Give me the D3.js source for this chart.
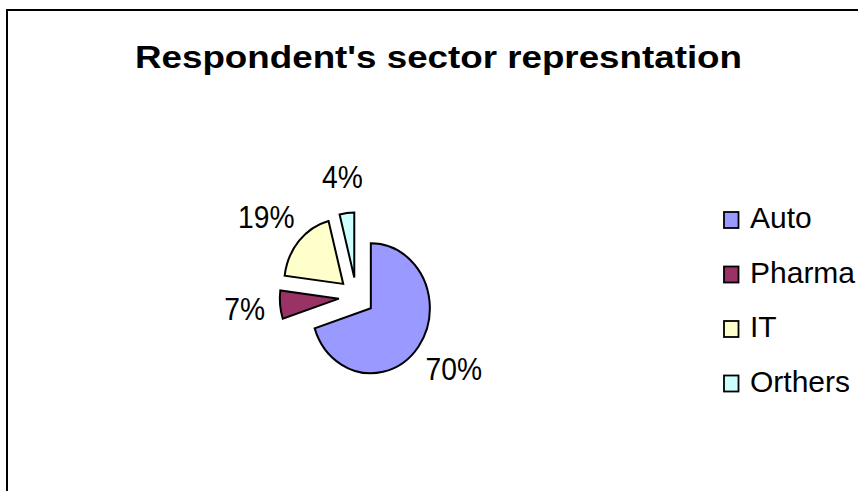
<!DOCTYPE html>
<html>
<head>
<meta charset="utf-8">
<script src="https://cdn.jsdelivr.net/npm/d3@7"></script>
<style>
  html, body { margin: 0; padding: 0; background: #ffffff; }
  svg { display: block; }
  text { font-family: "Liberation Sans", Arial, sans-serif; fill: #000; }
</style>
</head>
<body>
<svg id="chart" width="858" height="491"></svg>
<script>
// ---- data ----
const categories = ["Auto", "Pharma", "IT", "Orthers"];
const values = [70, 7, 19, 4];
const labels = ["70%", "7%", "19%", "4%"];
const colors = ["#9999FF", "#993366", "#FFFFCC", "#CCFFFF"];
const title = "Respondent's sector represntation";

// ---- layout ----
const svg = d3.select("#chart");

// outer frame (extends past right and bottom edges)
svg.append("rect")
  .attr("x", 7).attr("y", 10)
  .attr("width", 1000).attr("height", 1000)
  .attr("fill", "#fff").attr("stroke", "#000").attr("stroke-width", 2);

// title
svg.append("text")
  .attr("x", 135).attr("y", 68)
  .attr("font-size", 32).attr("font-weight", "bold")
  .attr("textLength", 607).attr("lengthAdjust", "spacingAndGlyphs")
  .text(title);

// pie
const cx = 356.5, cy = 296.8;
const R = 65, sx = 0.908, explode = 19.5;
const pie = d3.pie().sort(null).startAngle(0).endAngle(2 * Math.PI);
const arcs = pie(values);
const arc = d3.arc().innerRadius(0).outerRadius(R);
const color = d3.scaleOrdinal().domain(categories).range(colors);

const pg = svg.append("g").attr("transform", `translate(${cx},${cy}) scale(${sx},1)`);
pg.selectAll("path").data(arcs).enter().append("path")
  .attr("transform", d => {
    const a = (d.startAngle + d.endAngle) / 2;
    return `translate(${explode * Math.sin(a)},${-explode * Math.cos(a)})`;
  })
  .attr("d", arc)
  .attr("fill", (d, i) => color(categories[i]))
  .attr("stroke", "#000")
  .attr("stroke-width", 2)
  .attr("stroke-linejoin", "miter")
  .attr("vector-effect", "non-scaling-stroke");

// data labels
const rxL = 92, ryL = 110, hh = 11.5, fs = 31;
const lg = svg.append("g");
arcs.forEach((d, i) => {
  const a = (d.startAngle + d.endAngle) / 2;
  const t = lg.append("text")
    .attr("font-size", fs)
    .attr("text-anchor", "middle")
    .text(labels[i]);
  const w = t.node().getComputedTextLength() * 0.91;
  t.attr("textLength", w).attr("lengthAdjust", "spacingAndGlyphs");
  const hw = w / 2;
  const ax = cx + rxL * Math.sin(a) + hw * Math.sin(a);
  const ay = cy - ryL * Math.cos(a) - hh * Math.cos(a);
  t.attr("x", ax).attr("y", ay + 11.5);
});

// legend
const legY0 = 228.3, legStep = 54.5;
const leg = svg.append("g");
categories.forEach((c, i) => {
  const by = legY0 + i * legStep;
  leg.append("rect")
    .attr("x", 724).attr("y", by - 16.3)
    .attr("width", 14.5).attr("height", 16)
    .attr("fill", color(c)).attr("stroke", "#000").attr("stroke-width", 1.8);
  leg.append("text")
    .attr("x", 750).attr("y", by)
    .attr("font-size", 30)
    .text(c);
});
</script>
</body>
</html>
